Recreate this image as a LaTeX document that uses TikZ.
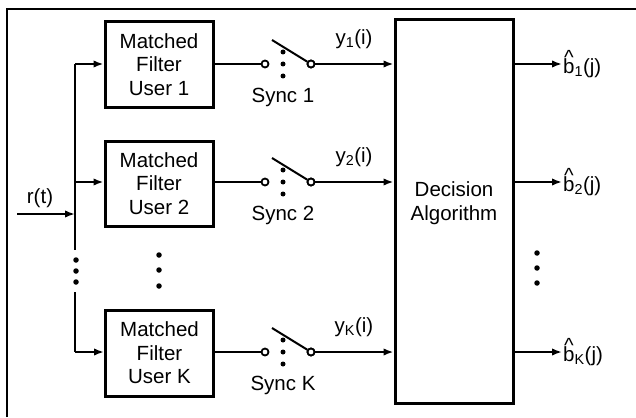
\documentclass[tikz,border=0pt]{standalone}
\usepackage{fontspec}
\setmainfont{Liberation Sans}
\usetikzlibrary{arrows.meta}
\newcommand{\bhat}{\makebox[0pt][l]{\makebox[0.556em][c]{\raisebox{0.42em}{\symbol{"5E}}}}b}
\begin{document}
\begin{tikzpicture}[x=1pt,y=-1pt,
  every node/.style={font=\fontsize{20.5}{23.5}\selectfont},
  blk/.style={draw, line width=3pt, align=center, inner sep=0pt},
  wire/.style={line width=2pt},
  arr/.style={wire, -{Latex[length=10pt,width=7.5pt]}},
  term/.style={circle, draw, line width=1.8pt, fill=white, minimum size=7pt, inner sep=0pt},
  dotn/.style={circle, fill=black, minimum size=5.5pt, inner sep=0pt},
  lbl/.style={inner sep=0pt}
]
\useasboundingbox (0,0) rectangle (636,417);
\draw[line width=2pt] (7,417) -- (7,9) -- (636,9);

% matched filters
\node[blk, minimum width=108pt, minimum height=85pt] (mf1) at (159,64.5) {Matched\\Filter\\User 1};
\node[blk, minimum width=108pt, minimum height=85pt] (mf2) at (159,183.5) {Matched\\Filter\\User 2};
\node[blk, minimum width=108pt, minimum height=86pt] (mfK) at (159.5,353) {Matched\\Filter\\User K};

% decision
\node[blk, minimum width=118pt, minimum height=383pt] (dec) at (454,211.5) {};
\node[lbl, align=center] (dect) at (454,203) {Decision\\Algorithm};

% input bus
\coordinate (rin) at (17,214);
\coordinate (rj) at (75,214);
\coordinate (b1) at (75,64);
\coordinate (b2) at (75,182);
\coordinate (bK) at (75,352);
\coordinate (bgapA) at (75,250);
\coordinate (bgapB) at (75,292);
\draw[wire] (b1) -- (bgapA);
\draw[wire] (bgapB) -- (bK);
\draw[arr] (rin) -- (rj);
\node[lbl] (rt) at (40,198) {r(t)};
\draw[arr] (b1) -- (mf1.west |- b1);
\draw[arr] (b2) -- (mf2.west |- b2);
\draw[arr] (bK) -- (mfK.west |- bK);
\node[dotn] (bd1) at (76,260) {};
\node[dotn] (bd2) at (76,271) {};
\node[dotn] (bd3) at (76,282) {};

% middle dots
\node[dotn] (md1) at (159,255) {};
\node[dotn] (md2) at (159,270) {};
\node[dotn] (md3) at (159,286) {};

% right dots
\node[dotn] (rd1) at (537,253) {};
\node[dotn] (rd2) at (537,268) {};
\node[dotn] (rd3) at (537,283) {};

% switches and outputs
\foreach \r/\y/\n in {1/64/1, 2/182/2, K/352/K}{
  \node[term] (sl\r) at (265,\y) {};
  \node[term] (sr\r) at (311,\y) {};
  \coordinate (bl\r) at (272,\y-24);
  \draw[wire] (mf\r.east |- sl\r) -- (sl\r.west);
  \draw[wire] (bl\r) -- (sr\r);
  \node[term] (sr\r b) at (311,\y) {};
  \node[dotn, minimum size=5pt] (sd\r a) at (283,\y-12) {};
  \node[dotn, minimum size=5pt] (sd\r b) at (283,\y) {};
  \node[dotn, minimum size=5pt] (sd\r c) at (283,\y+12) {};
  \node[lbl] (sy\r) at (283,\y+33) {Sync \n};
  \draw[arr] (sr\r.east) -- (dec.west |- sr\r);
  \node[lbl] (yl\r) at (354,\y-25) {y\textsubscript{\n}(i)};
  \coordinate (oe\r) at (562,\y);
  \draw[arr] (dec.east |- oe\r) -- (oe\r);
  \node[lbl, anchor=west] (bo\r) at (563,\y) {\bhat\textsubscript{\n}(j)};
}
\end{tikzpicture}
\end{document}
